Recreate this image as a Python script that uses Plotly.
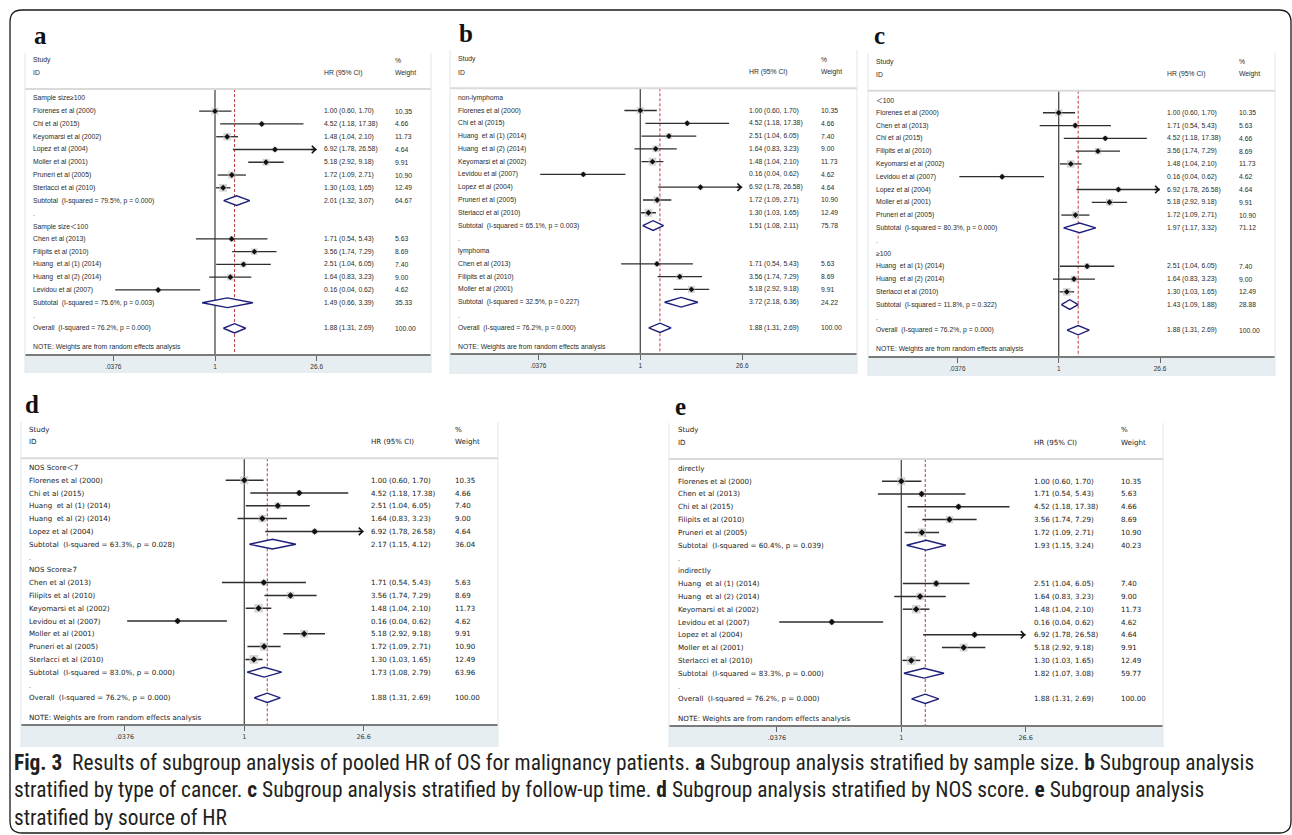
import numpy as np
import plotly.graph_objects as go

W, H = 1292, 835

# ---- study-level hazard ratios (95% CI) and random-effects weights ----
study = ["Florenes et al (2000)", "Chi et al (2015)", "Keyomarsi et al (2002)", "Lopez et al (2004)",
         "Moller et al (2001)", "Pruneri et al (2005)", "Sterlacci et al (2010)", "Chen et al (2013)",
         "Filipits et al (2010)", "Huang  et al (1) (2014)", "Huang  et al (2) (2014)", "Levidou et al (2007)"]
study_hr = [1.00, 4.52, 1.48, 6.92, 5.18, 1.72, 1.30, 1.71, 3.56, 2.51, 1.64, 0.16]
study_lo = [0.60, 1.18, 1.04, 1.78, 2.92, 1.09, 1.03, 0.54, 1.74, 1.04, 0.83, 0.04]
study_hi = [1.70, 17.38, 2.10, 26.58, 9.18, 2.71, 1.65, 5.43, 7.29, 6.05, 3.23, 0.62]
study_wt = [10.35, 4.66, 11.73, 4.64, 9.91, 10.90, 12.49, 5.63, 8.69, 7.40, 9.00, 4.62]

overall_hr, overall_lo, overall_hi, overall_wt = 1.88, 1.31, 2.69, 100.00
overall_isq, overall_p = "76.2%", "0.000"

xtick_vals = [0.0376, 1, 26.6]
xtick_text = [".0376", "1", "26.6"]

# ---- (a) sample size ----
a_groups = ["Sample size≥100", "Sample size＜100"]
a_members = [["Florenes et al (2000)", "Chi et al (2015)", "Keyomarsi et al (2002)", "Lopez et al (2004)",
              "Moller et al (2001)", "Pruneri et al (2005)", "Sterlacci et al (2010)"],
             ["Chen et al (2013)", "Filipits et al (2010)", "Huang  et al (1) (2014)",
              "Huang  et al (2) (2014)", "Levidou et al (2007)"]]
a_sub_hr = [2.01, 1.49]
a_sub_lo = [1.32, 0.66]
a_sub_hi = [3.07, 3.39]
a_sub_wt = [64.67, 35.33]
a_sub_isq = ["79.5%", "75.6%"]
a_sub_p = ["0.000", "0.003"]

# ---- (b) type of cancer ----
b_groups = ["non-lymphoma", "lymphoma"]
b_members = [["Florenes et al (2000)", "Chi et al (2015)", "Huang  et al (1) (2014)", "Huang  et al (2) (2014)",
              "Keyomarsi et al (2002)", "Levidou et al (2007)", "Lopez et al (2004)", "Pruneri et al (2005)",
              "Sterlacci et al (2010)"],
             ["Chen et al (2013)", "Filipits et al (2010)", "Moller et al (2001)"]]
b_sub_hr = [1.51, 3.72]
b_sub_lo = [1.08, 2.18]
b_sub_hi = [2.11, 6.36]
b_sub_wt = [75.78, 24.22]
b_sub_isq = ["65.1%", "32.5%"]
b_sub_p = ["0.003", "0.227"]

# ---- (c) follow-up time ----
c_groups = ["＜100", "≥100"]
c_members = [["Florenes et al (2000)", "Chen et al (2013)", "Chi et al (2015)", "Filipits et al (2010)",
              "Keyomarsi et al (2002)", "Levidou et al (2007)", "Lopez et al (2004)", "Moller et al (2001)",
              "Pruneri et al (2005)"],
             ["Huang  et al (1) (2014)", "Huang  et al (2) (2014)", "Sterlacci et al (2010)"]]
c_sub_hr = [1.97, 1.43]
c_sub_lo = [1.17, 1.09]
c_sub_hi = [3.32, 1.88]
c_sub_wt = [71.12, 28.88]
c_sub_isq = ["80.3%", "11.8%"]
c_sub_p = ["0.000", "0.322"]

# ---- (d) NOS score ----
d_groups = ["NOS Score＜7", "NOS Score≥7"]
d_members = [["Florenes et al (2000)", "Chi et al (2015)", "Huang  et al (1) (2014)", "Huang  et al (2) (2014)",
              "Lopez et al (2004)"],
             ["Chen et al (2013)", "Filipits et al (2010)", "Keyomarsi et al (2002)", "Levidou et al (2007)",
              "Moller et al (2001)", "Pruneri et al (2005)", "Sterlacci et al (2010)"]]
d_sub_hr = [2.17, 1.73]
d_sub_lo = [1.15, 1.08]
d_sub_hi = [4.12, 2.79]
d_sub_wt = [36.04, 63.96]
d_sub_isq = ["63.3%", "83.0%"]
d_sub_p = ["0.028", "0.000"]

# ---- (e) source of HR ----
e_groups = ["directly", "indirectly"]
e_members = [["Florenes et al (2000)", "Chen et al (2013)", "Chi et al (2015)", "Filipits et al (2010)",
              "Pruneri et al (2005)"],
             ["Huang  et al (1) (2014)", "Huang  et al (2) (2014)", "Keyomarsi et al (2002)",
              "Levidou et al (2007)", "Lopez et al (2004)", "Moller et al (2001)", "Sterlacci et al (2010)"]]
e_sub_hr = [1.93, 1.82]
e_sub_lo = [1.15, 1.07]
e_sub_hi = [3.24, 3.08]
e_sub_wt = [40.23, 59.77]
e_sub_isq = ["60.4%", "83.3%"]
e_sub_p = ["0.039", "0.000"]

panels = [
    ("a", a_groups, a_members, a_sub_hr, a_sub_lo, a_sub_hi, a_sub_wt, a_sub_isq, a_sub_p),
    ("b", b_groups, b_members, b_sub_hr, b_sub_lo, b_sub_hi, b_sub_wt, b_sub_isq, b_sub_p),
    ("c", c_groups, c_members, c_sub_hr, c_sub_lo, c_sub_hi, c_sub_wt, c_sub_isq, c_sub_p),
    ("d", d_groups, d_members, d_sub_hr, d_sub_lo, d_sub_hi, d_sub_wt, d_sub_isq, d_sub_p),
    ("e", e_groups, e_members, e_sub_hr, e_sub_lo, e_sub_hi, e_sub_wt, e_sub_isq, e_sub_p),
]

# ---- panel geometry in page pixels ----
geom = {
    "a": dict(L=25, R=431, top=53, axis=354, band=373, row0=60.1, dy=12.77, p1=215.0, p26=316.7, sep=89.0,
              xn=30.7, xh=321.7, xw=393.0, lx=40, ly=35),
    "b": dict(L=450, R=857, top=50, axis=353.3, band=374, row0=59.4, dy=12.78, p1=640.3, p26=742.3, sep=88.3,
              xn=456.0, xh=747.0, xw=818.7, lx=466, ly=33),
    "c": dict(L=868, R=1275, top=53, axis=356, band=376, row0=61.6, dy=12.79, p1=1058.7, p26=1160.0, sep=90.7,
              xn=874.0, xh=1165.0, xw=1236.7, lx=879, ly=35),
    "d": dict(L=21, R=498, top=422, axis=724.3, band=747, row0=429.0, dy=12.8, p1=244.3, p26=363.7, sep=458.3,
              xn=26.7, xh=369.3, xw=453.3, lx=32, ly=405),
    "e": dict(L=669, R=1163, top=423, axis=725, band=747, row0=430.0, dy=12.8, p1=901.3, p26=1025.7, sep=459.0,
              xn=675.7, xh=1031.7, xw=1119.3, lx=680, ly=406),
}

small_font = dict(family="Liberation Sans, Arial, sans-serif", size=6.8, color="#2b2b2b")
wide_font = dict(family="DejaVu Sans, Verdana, sans-serif", size=7.1, color="#222222")

NAVY = "#1d1f7a"
RED = "#c0393b"
CI_COL = "#2e2e2e"
BOX_COL = "#c4c4c4"

fig = go.Figure()
annotations = []
shapes = []
layout_axes = {}


def nb(s):
    # keep doubled spaces and render the full-width "less than" with a CJK face
    s = s.replace("  ", "\u00a0\u00a0")
    return s.replace("＜", "<span style=\"font-family:'Noto Sans CJK SC'\">＜</span>")


def ci_text(h, l, u):
    return f"{h:.2f} ({l:.2f}, {u:.2f})"


for k, (key, groups, members, s_hr, s_lo, s_hi, s_wt, s_isq, s_p) in enumerate(panels):
    g = geom[key]
    wide = key in ("d", "e")
    tfont = wide_font if wide else small_font
    xa = "x" if k == 0 else f"x{k + 1}"
    ya = "y" if k == 0 else f"y{k + 1}"
    xname = "xaxis" if k == 0 else f"xaxis{k + 1}"
    yname = "yaxis" if k == 0 else f"yaxis{k + 1}"

    def prow(pix):
        return (pix - g["row0"]) / g["dy"]

    y_bottom = prow(g["axis"])
    y_top = prow(g["top"])
    y_sep = prow(g["sep"])
    lmax = np.log10(xtick_vals[-1])
    span = g["p26"] - g["p1"]
    xr = [(g["L"] - g["p1"]) / span * lmax, (g["R"] - g["p1"]) / span * lmax]

    layout_axes[xname] = dict(
        type="log", range=xr, domain=[g["L"] / W, g["R"] / W], anchor=ya,
        tickvals=xtick_vals, ticktext=xtick_text, ticks="outside", ticklen=5, tickwidth=1.2,
        tickcolor="#666666", showline=True, linecolor="#7a7a7a", linewidth=2, mirror=False,
        showgrid=False, zeroline=False, tickfont=dict(family=tfont["family"], size=6.5, color="#333333"),
        fixedrange=True,
    )
    layout_axes[yname] = dict(
        range=[y_bottom, y_top], domain=[1 - g["axis"] / H, 1 - g["top"] / H], anchor=xa,
        visible=False, fixedrange=True,
    )

    # shaded axis band, panel edges, header separator
    shapes.append(dict(type="rect", xref="paper", yref="paper", x0=g["L"] / W, x1=g["R"] / W,
                       y0=1 - g["band"] / H, y1=1 - g["axis"] / H, fillcolor="#e7eef1",
                       line=dict(width=0), layer="below"))
    for xe in (g["L"], g["R"]):
        shapes.append(dict(type="line", xref="paper", yref="paper", x0=xe / W, x1=xe / W,
                           y0=1 - g["band"] / H, y1=1 - g["top"] / H,
                           line=dict(color="#e1e7ea", width=1)))
    shapes.append(dict(type="line", xref="paper", yref="paper", x0=g["L"] / W, x1=g["R"] / W,
                       y0=1 - g["sep"] / H, y1=1 - g["sep"] / H, line=dict(color="#dadada", width=2)))

    # null line and overall estimate line
    fig.add_trace(go.Scatter(x=[1, 1], y=[y_sep, y_bottom], mode="lines", xaxis=xa, yaxis=ya,
                             line=dict(color="#4a4a4a", width=1.3), hoverinfo="skip", showlegend=False))
    fig.add_trace(go.Scatter(x=[overall_hr, overall_hr], y=[y_sep, y_bottom], mode="lines", xaxis=xa,
                             yaxis=ya, line=dict(color=RED, width=1, dash="3px,2px"),
                             hoverinfo="skip", showlegend=False))

    def text(row, col, s, **kw):
        annotations.append(dict(xref="paper", yref=ya, x=g[col] / W, y=row, text=s, showarrow=False,
                                xanchor="left", yanchor="middle", font=tfont, **kw))

    # header block
    text(0, "xn", "Study")
    text(1, "xn", "ID")
    text(1, "xh", "HR (95% CI)")
    text(0, "xw", "%")
    text(1, "xw", "Weight")

    rows_st, st_hr, st_lo, st_hi, st_wt = [], [], [], [], []
    r = 3
    for gi, grp in enumerate(groups):
        text(r, "xn", nb(grp))
        r += 1
        for name in members[gi]:
            j = study.index(name)
            rows_st.append(r)
            st_hr.append(study_hr[j]); st_lo.append(study_lo[j]); st_hi.append(study_hi[j]); st_wt.append(study_wt[j])
            text(r, "xn", nb(name))
            text(r, "xh", ci_text(study_hr[j], study_lo[j], study_hi[j]))
            text(r, "xw", f"{study_wt[j]:.2f}")
            r += 1
        # subtotal diamond
        hgt = 0.38
        fig.add_trace(go.Scatter(x=[s_lo[gi], s_hr[gi], s_hi[gi], s_hr[gi], s_lo[gi]],
                                 y=[r, r - hgt, r, r + hgt, r], mode="lines", fill="toself",
                                 fillcolor="white", line=dict(color=NAVY, width=1.4), xaxis=xa, yaxis=ya,
                                 hoverinfo="skip", showlegend=False))
        text(r, "xn", nb(f"Subtotal  (I-squared = {s_isq[gi]}, p = {s_p[gi]})"))
        text(r, "xh", ci_text(s_hr[gi], s_lo[gi], s_hi[gi]))
        text(r, "xw", f"{s_wt[gi]:.2f}")
        r += 1
        dot_font = dict(tfont, color="#c0393b" if wide else "#555555")
        annotations.append(dict(xref="paper", yref=ya, x=g["xn"] / W, y=r, text=".", showarrow=False,
                                xanchor="left", yanchor="middle", font=dot_font))
        r += 1

    # overall diamond
    hgt = 0.36
    fig.add_trace(go.Scatter(x=[overall_lo, overall_hr, overall_hi, overall_hr, overall_lo],
                             y=[r, r - hgt, r, r + hgt, r], mode="lines", fill="toself", fillcolor="white",
                             line=dict(color=NAVY, width=1.4), xaxis=xa, yaxis=ya,
                             hoverinfo="skip", showlegend=False))
    text(r, "xn", nb(f"Overall  (I-squared = {overall_isq}, p = {overall_p})"))
    text(r, "xh", ci_text(overall_hr, overall_lo, overall_hi))
    text(r, "xw", f"{overall_wt:.2f}")
    text(r + 1.5, "xn", "NOTE: Weights are from random effects analysis")

    # confidence intervals
    cx, cy = [], []
    for rr, l, u in zip(rows_st, st_lo, st_hi):
        cx += [l, u, None]
        cy += [rr, rr, None]
    fig.add_trace(go.Scatter(x=cx, y=cy, mode="lines", line=dict(color=CI_COL, width=1.5 if wide else 1.3),
                             xaxis=xa, yaxis=ya, hoverinfo="skip", showlegend=False))
    # weight boxes
    kbox = 2.5 if wide else 2.2
    fig.add_trace(go.Scatter(x=st_hr, y=rows_st, mode="markers", xaxis=xa, yaxis=ya,
                             marker=dict(symbol="square", color=BOX_COL, size=[kbox * np.sqrt(w) for w in st_wt],
                                         line=dict(width=0)),
                             hoverinfo="skip", showlegend=False))
    # point estimates
    fig.add_trace(go.Scatter(x=st_hr, y=rows_st, mode="markers", xaxis=xa, yaxis=ya,
                             marker=dict(symbol="diamond", color="#111111", size=5 if wide else 4.5),
                             hoverinfo="skip", showlegend=False))
    # arrows for intervals reaching the axis limit
    for rr, u in zip(rows_st, st_hi):
        if u >= xtick_vals[-1] * 0.99:
            annotations.append(dict(xref=xa, yref=ya, x=np.log10(u), y=rr, ax=-7, ay=0, text="",
                                    showarrow=True, arrowhead=4, arrowsize=1.1, arrowwidth=1.3,
                                    arrowcolor="#111111", standoff=0))

    # panel letter
    annotations.append(dict(xref="paper", yref="paper", x=g["lx"] / W, y=1 - g["ly"] / H, text=f"<b>{key}</b>",
                            showarrow=False, xanchor="center", yanchor="middle",
                            font=dict(family="Liberation Serif, DejaVu Serif, serif", size=25, color="#111111")))

# ---- caption ----
cap_font = dict(family="Liberation Sans Narrow, Roboto Condensed, Liberation Sans, sans-serif", size=21.4,
                color="#231f20")
caption = [
    "<b>Fig. 3</b>\u00a0\u00a0Results of subgroup analysis of pooled HR of OS for malignancy patients. "
    "<b>a</b> Subgroup analysis stratified by sample size. <b>b</b> Subgroup analysis",
    "stratified by type of cancer. <b>c</b> Subgroup analysis stratified by follow-up time. "
    "<b>d</b> Subgroup analysis stratified by NOS score. <b>e</b> Subgroup analysis",
    "stratified by source of HR",
]
for i, line in enumerate(caption):
    annotations.append(dict(xref="paper", yref="paper", x=12 / W, y=1 - (762 + 27.5 * i) / H, text=line,
                            showarrow=False, xanchor="left", yanchor="middle", font=cap_font))

# ---- rounded frame around the figure ----
x0, x1, y0, y1, rad = 10, 1291, 10, 833, 12


def P(x, y):
    return f"{x / W:.5f},{1 - y / H:.5f}"


frame = (f"M{P(x0 + rad, y0)} L{P(x1 - rad, y0)} Q{P(x1, y0)} {P(x1, y0 + rad)} "
         f"L{P(x1, y1 - rad)} Q{P(x1, y1)} {P(x1 - rad, y1)} L{P(x0 + rad, y1)} "
         f"Q{P(x0, y1)} {P(x0, y1 - rad)} L{P(x0, y0 + rad)} Q{P(x0, y0)} {P(x0 + rad, y0)} Z")
shapes.append(dict(type="path", xref="paper", yref="paper", path=frame, line=dict(color="#1a1a1a", width=1.3)))

fig.update_layout(
    width=W, height=H, margin=dict(l=0, r=0, t=0, b=0),
    paper_bgcolor="white", plot_bgcolor="white",
    showlegend=False, annotations=annotations, shapes=shapes,
    **layout_axes,
)

fig.write_html("out.html", config={"displayModeBar": False})
